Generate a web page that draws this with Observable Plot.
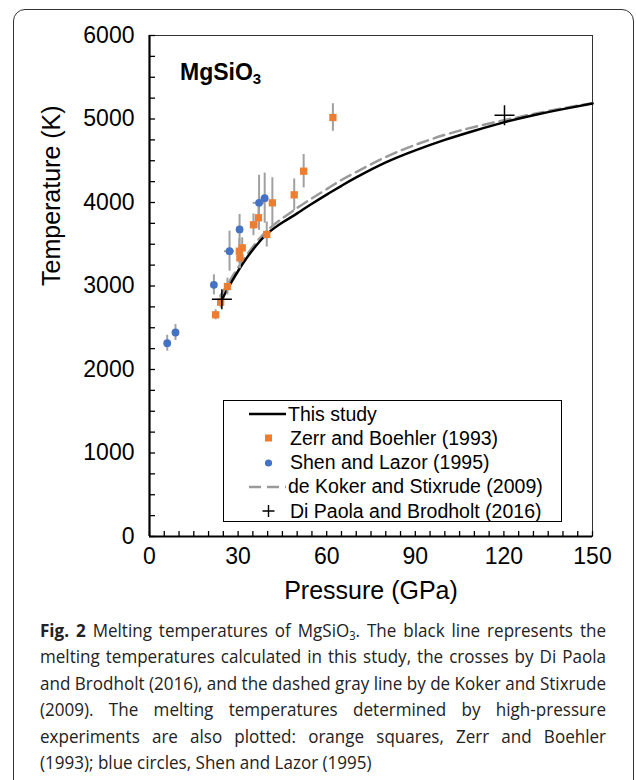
<!DOCTYPE html>
<html>
<head>
<meta charset="utf-8">
<script src="https://cdn.jsdelivr.net/npm/d3@7"></script>
<script src="https://cdn.jsdelivr.net/npm/@observablehq/plot@0.6"></script>
<style>
  html, body { margin: 0; padding: 0; background: #fff; }
  body { width: 636px; height: 780px; position: relative; overflow: hidden; font-family: "Liberation Sans", Arial, sans-serif; }
  #border { position: absolute; left: 13px; top: 9px; width: 621px; height: 820px; border: 1.3px solid #333; border-radius: 12px; box-sizing: border-box; }
  #chart { position: absolute; left: 0; top: 0; }
  #title { position: absolute; left: 180px; top: 59px; font-size: 23px; font-weight: bold; color: #000; }
  #title sub { font-size: 15px; vertical-align: -4px; line-height: 0; }
  #legend { position: absolute; left: 223px; top: 400px; width: 339px; height: 122px; border: 1.2px solid #000; box-sizing: border-box; background: #fff; }
  .lg { position: absolute; left: 0; height: 24px; display: flex; align-items: center; font-size: 19.5px; color: #000; white-space: nowrap; }
  .lg svg { width: 62px; height: 24px; flex: none; }
  #caption { position: absolute; left: 40px; top: 617px; font-family: "Open Sans", sans-serif; font-size: 18.5px; color: #222; transform-origin: 0 0; }
  .cl { display: inline-block; height: 26.4px; line-height: 26.4px; white-space: nowrap; }
  .cl sub { font-size: 12px; line-height: 0; vertical-align: -3px; }
</style>
</head>
<body>
<div id="border"></div>
<div id="chart"></div>
<div id="title">MgSiO<sub>3</sub></div>
<div id="legend"></div>
<div id="caption"></div>
<script>
// ---- Data ----
const thisStudyP = [24.2, 25, 27, 30, 33, 36, 40, 45, 50, 55, 60, 65, 70, 80, 90, 100, 110, 120, 130, 140, 150];
const thisStudyT = [2800, 2870, 3000, 3180, 3340, 3480, 3630, 3760, 3870, 3985, 4095, 4200, 4300, 4480, 4625, 4750, 4860, 4960, 5045, 5118, 5185];

const dekokerP = [24, 27, 30, 35, 40, 45, 50, 55, 60, 65, 70, 80, 90, 100, 110, 120, 130, 140, 150];
const dekokerT = [2880, 3050, 3220, 3470, 3670, 3810, 3935, 4050, 4160, 4270, 4365, 4545, 4690, 4810, 4905, 4985, 5060, 5128, 5190];

const zerrP   = [22.4, 24.1, 26.4, 30.6, 30.4, 31.4, 35.2, 36.9, 39.7, 41.6, 49.0, 52.2, 62.1];
const zerrT   = [2655, 2806, 2994, 3337, 3417, 3457, 3733, 3817, 3617, 3996, 4092, 4375, 5018];
const zerrErr = [60, 70, 100, 130, 150, 120, 130, 130, 150, 300, 190, 200, 165];

const shenP    = [6.0, 8.8, 21.8, 27.1, 30.5, 37.1, 39.0];
const shenT    = [2315, 2443, 3014, 3417, 3677, 3996, 4052];
const shenErrT = [95, 95, 120, 240, 180, 330, 300];
const shenErrP = [0, 0, 0.8, 1.7, 0.8, 2.0, 1.2];

const dipaolaP = [24.5, 120.2];
const dipaolaT = [2840, 5045];

const xTicks = [0, 30, 60, 90, 120, 150];
const yTicks = [0, 1000, 2000, 3000, 4000, 5000, 6000];

const legendLabels = ["This study", "Zerr and Boehler (1993)", "Shen and Lazor (1995)", "de Koker and Stixrude (2009)", "Di Paola and Brodholt (2016)"];

const ORANGE = "#ED7D31", BLUE = "#4472C4", GRAY = "#9a9a9a", ERR = "#a0a0a0";

// ---- Tables ----
const thisStudy = thisStudyP.map((p, i) => ({p, t: thisStudyT[i]}));
const dekoker = dekokerP.map((p, i) => ({p, t: dekokerT[i]}));
const zerr = zerrP.map((p, i) => ({p, t: zerrT[i], e: zerrErr[i]}));
const shen = shenP.map((p, i) => ({p, t: shenT[i], e: shenErrT[i], ep: shenErrP[i]}));
const dipaola = dipaolaP.map((p, i) => ({p, t: dipaolaT[i]}));

const chart = Plot.plot({
  width: 636,
  height: 600,
  marginLeft: 149,
  marginRight: 44,
  marginTop: 35,
  marginBottom: 64,
  style: {fontFamily: "'Liberation Sans', Arial, sans-serif", background: "transparent", color: "#000", overflow: "visible"},
  x: {domain: [0, 150], axis: null},
  y: {domain: [0, 6000], axis: null},
  marks: [
    Plot.frame({stroke: "#333", strokeWidth: 1}),
    // minor inward ticks
    Plot.axisX(d3.range(0, 151, 5), {tickSize: -5, tickFormat: () => "", label: null, strokeWidth: 1.3}),
    Plot.axisY(d3.range(0, 6001, 250), {tickSize: -6, tickFormat: () => "", label: null, strokeWidth: 1.3}),
    // tick labels
    Plot.text(xTicks, {x: d => d, text: d => String(d), frameAnchor: "bottom", dy: 27, fontSize: 23, fill: "#000"}),
    Plot.text(yTicks, {y: d => d, text: d => String(d), frameAnchor: "left", dx: -15, textAnchor: "end", fontSize: 23, fill: "#000"}),
    Plot.ruleX([0], {stroke: "#000", strokeWidth: 2.2}),
    Plot.ruleY([0], {stroke: "#000", strokeWidth: 2.2}),
    Plot.text(["Pressure (GPa)"], {frameAnchor: "bottom", dy: 62, fontSize: 25}),
    Plot.text(["Temperature (K)"], {frameAnchor: "left", dx: -98, rotate: -90, fontSize: 25}),
    // curves
    Plot.line(dekoker, {x: "p", y: "t", stroke: GRAY, strokeWidth: 2.5, strokeDasharray: "11,6", curve: "natural"}),
    Plot.line(thisStudy, {x: "p", y: "t", stroke: "#000", strokeWidth: 2.5, curve: "natural"}),
    // error bars
    Plot.ruleX(zerr, {x: "p", y1: d => d.t - d.e, y2: d => d.t + d.e, stroke: ERR, strokeWidth: 2}),
    Plot.ruleX(shen, {x: "p", y1: d => d.t - d.e, y2: d => d.t + d.e, stroke: ERR, strokeWidth: 2}),
    Plot.ruleY(shen.filter(d => d.ep > 0), {y: "t", x1: d => d.p - d.ep, x2: d => d.p + d.ep, stroke: ERR, strokeWidth: 2}),
    // points
    Plot.dot(zerr, {x: "p", y: "t", symbol: "square", r: 4.1, fill: ORANGE, stroke: "none"}),
    Plot.dot(shen, {x: "p", y: "t", symbol: "circle", r: 3.9, fill: BLUE, stroke: "none"}),
    Plot.dot(dipaola, {x: "p", y: "t", symbol: "plus", r: 6.5, stroke: "#000", strokeWidth: 1.5})
  ]
});
document.getElementById("chart").appendChild(chart);

// ---- Legend (HTML) ----
const legendSymbols = [
  `<line x1="25" x2="62" y1="12" y2="12" stroke="#000" stroke-width="2.3"/>`,
  `<rect x="41" y="8.5" width="7" height="7" fill="${ORANGE}"/>`,
  `<circle cx="44.5" cy="12" r="3.6" fill="${BLUE}"/>`,
  `<line x1="25" x2="62" y1="12" y2="12" stroke="${GRAY}" stroke-width="2.3" stroke-dasharray="12,6"/>`,
  `<path d="M38.5,12h12M44.5,6v12" stroke="#000" stroke-width="1.4"/>`
];
const legend = document.getElementById("legend");
legendLabels.forEach((lab, i) => {
  const row = document.createElement("div");
  row.className = "lg";
  row.style.top = (1 + i * 24.3) + "px";
  row.innerHTML = `<svg viewBox="0 0 62 24">${legendSymbols[i]}</svg><span style="margin-left:${(i === 0 || i === 3) ? 2 : 4}px">${lab}</span>`;
  legend.appendChild(row);
});

// ---- Caption ----
const captionLines = [
  `<b>Fig. 2</b> Melting temperatures of MgSiO<sub>3</sub>. The black line represents the`,
  `melting temperatures calculated in this study, the crosses by Di Paola`,
  `and Brodholt (2016), and the dashed gray line by de Koker and Stixrude`,
  `(2009). The melting temperatures determined by high-pressure`,
  `experiments are also plotted: orange squares, Zerr and Boehler`,
  `(1993); blue circles, Shen and Lazor (1995)`
];
const CAP_W = 566;
const cap = document.getElementById("caption");
const spans = captionLines.map(l => {
  const s = document.createElement("span");
  s.className = "cl";
  s.innerHTML = l;
  cap.appendChild(s);
  return s;
});
const maxW = Math.max(...spans.map(s => s.getBoundingClientRect().width));
const c = Math.min(1, CAP_W / maxW);
const innerW = CAP_W / c;
cap.style.width = innerW + "px";
cap.style.transform = `scaleX(${c})`;
spans.forEach((s, i) => {
  s.style.display = "block";
  s.style.width = innerW + "px";
  s.style.textAlign = "justify";
  s.style.textAlignLast = i === spans.length - 1 ? "left" : "justify";
  s.style.whiteSpace = "normal";
});
</script>
</body>
</html>
